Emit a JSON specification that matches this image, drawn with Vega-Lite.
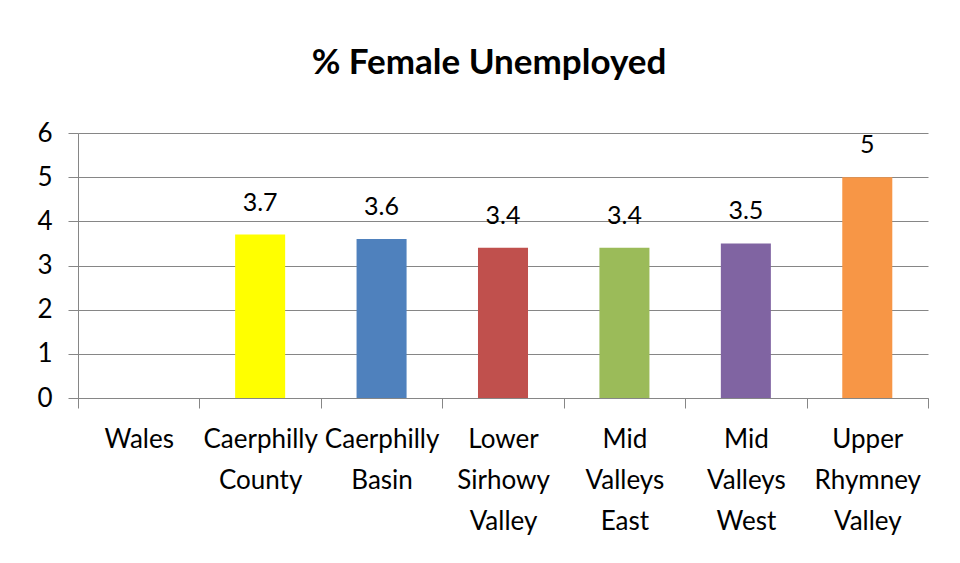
{
  "$schema": "https://vega.github.io/schema/vega-lite/v6.json",
  "width": 850,
  "height": 265,
  "autosize": {"type": "none"},
  "padding": {"left": 78, "top": 133, "right": 32, "bottom": 165},
  "background": "white",
  "title": {
    "text": "% Female Unemployed",
    "font": "Lato",
    "fontSize": 35,
    "fontWeight": "bold",
    "color": "#000000",
    "anchor": "middle",
    "baseline": "alphabetic",
    "offset": 11,
    "dx": -14
  },
  "data": {
    "values": [
      {"area": "Wales", "pct": null},
      {"area": "Caerphilly County", "pct": 3.7},
      {"area": "Caerphilly Basin", "pct": 3.6},
      {"area": "Lower Sirhowy Valley", "pct": 3.4},
      {"area": "Mid Valleys East", "pct": 3.4},
      {"area": "Mid Valleys West", "pct": 3.5},
      {"area": "Upper Rhymney Valley", "pct": 5}
    ]
  },
  "encoding": {
    "x": {
      "field": "area",
      "type": "nominal",
      "sort": null,
      "scale": {
        "domain": ["Wales", "Caerphilly County", "Caerphilly Basin", "Lower Sirhowy Valley", "Mid Valleys East", "Mid Valleys West", "Upper Rhymney Valley"],
        "paddingInner": 0,
        "paddingOuter": 0
      },
      "axis": {
        "title": null,
        "labelAngle": 0,
        "labelExpr": "split(datum.label, ' ')",
        "labelFont": "Lato",
        "labelFontSize": 26,
        "labelColor": "#000000",
        "labelLineHeight": 41,
        "labelBaseline": "top",
        "labelPadding": 18,
        "labelOverlap": false,
        "labelBound": false,
        "tickBand": "extent",
        "tickSize": 10,
        "tickColor": "#868686",
        "domainColor": "#868686",
        "grid": false
      }
    },
    "y": {
      "field": "pct",
      "type": "quantitative",
      "scale": {"domain": [0, 6], "nice": false},
      "axis": {
        "title": null,
        "values": [0, 1, 2, 3, 4, 5, 6],
        "labelFont": "Lato",
        "labelFontSize": 26,
        "labelColor": "#000000",
        "labelPadding": 16,
        "tickSize": 10,
        "tickColor": "#868686",
        "domainColor": "#868686",
        "gridColor": "#868686",
        "gridWidth": 1
      }
    }
  },
  "layer": [
    {
      "mark": {"type": "bar", "width": {"band": 0.412}},
      "encoding": {
        "color": {
          "field": "area",
          "type": "nominal",
          "legend": null,
          "scale": {
            "domain": ["Wales", "Caerphilly County", "Caerphilly Basin", "Lower Sirhowy Valley", "Mid Valleys East", "Mid Valleys West", "Upper Rhymney Valley"],
            "range": ["#4F81BD", "#FFFF00", "#4F81BD", "#C0504D", "#9BBB59", "#8064A2", "#F79646"]
          }
        }
      }
    },
    {
      "mark": {"type": "text", "font": "Lato", "fontSize": 25, "color": "#000000", "baseline": "alphabetic", "dy": -24},
      "encoding": {"text": {"field": "pct", "type": "quantitative"}}
    }
  ],
  "config": {"view": {"stroke": null}}
}
